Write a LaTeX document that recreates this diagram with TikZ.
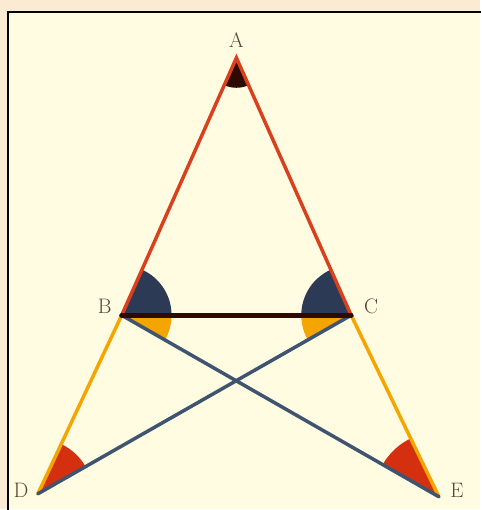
\documentclass[tikz,border=0pt]{standalone}
\usepackage{tikz}
\usetikzlibrary{calc}
\definecolor{outer}{HTML}{FBEBD3}
\definecolor{paper}{HTML}{FFFCE2}
\definecolor{byred}{HTML}{D8401E}
\definecolor{byfill}{HTML}{D4300F}
\definecolor{byorange}{HTML}{F5A500}
\definecolor{bynavy}{HTML}{2C3A56}
\definecolor{byslate}{HTML}{3E5470}
\definecolor{bybrown}{HTML}{2E0A04}
\definecolor{lbl}{HTML}{5A4434}

\begin{document}
\begin{tikzpicture}[x=1pt,y=1pt,line cap=round,
  lab/.style={font=\fontsize{21}{22}\selectfont,text=lbl,inner sep=0pt},
  side/.style={line width=3.5pt},
  base/.style={line width=5pt,draw=bybrown}]

  % sheet
  \fill[outer] (0,0) rectangle (481,510);
  \fill[paper] (8,0) rectangle (481,498);
  \draw[line width=2.5pt,line cap=rect] (8,0) -- (8,498) -- (481,498);
  \useasboundingbox (0,0) rectangle (481,510);

  % points
  \coordinate (A) at (237,452);
  \coordinate (B) at (122,194);
  \coordinate (C) at (352,194);
  \coordinate (D) at (38,15);
  \coordinate (E) at (440,12);
  \node[lab] (la) at (237,470) {A};
  \node[lab] (lb) at (105,203) {B};
  \node[lab] (lc) at (372,203) {C};
  \node[lab] (ld) at (21,18)   {D};
  \node[lab] (le) at (458,18)  {E};

  % angles
  \fill[bybrown] (A) -- +(246:30) arc[start angle=246,end angle=294,radius=30] -- cycle;
  \fill[bynavy] (B) -- +(0:50) arc[start angle=0,end angle=66,radius=50] -- cycle;
  \fill[bynavy] (C) -- +(114:50) arc[start angle=114,end angle=180,radius=50] -- cycle;
  \fill[byorange] (B) -- +(-29.8:50) arc[start angle=-29.8,end angle=0,radius=50] -- cycle;
  \fill[byorange] (C) -- +(180:50) arc[start angle=180,end angle=209.7,radius=50] -- cycle;
  \fill[byfill] (D) -- +(29.7:55) arc[start angle=29.7,end angle=64.9,radius=55] -- cycle;
  \fill[byfill] (E) -- +(115.8:65) arc[start angle=115.8,end angle=150.2,radius=65] -- cycle;

  % lines
  \draw[side,byred] (B) -- (A) -- (C);
  \draw[side,byorange] (B) -- (D);
  \draw[side,byorange] (C) -- (E);
  \draw[side,byslate] (B) -- (E);
  \draw[side,byslate] (C) -- (D);
  \draw[base] (B) -- (C);
\end{tikzpicture}
\end{document}
